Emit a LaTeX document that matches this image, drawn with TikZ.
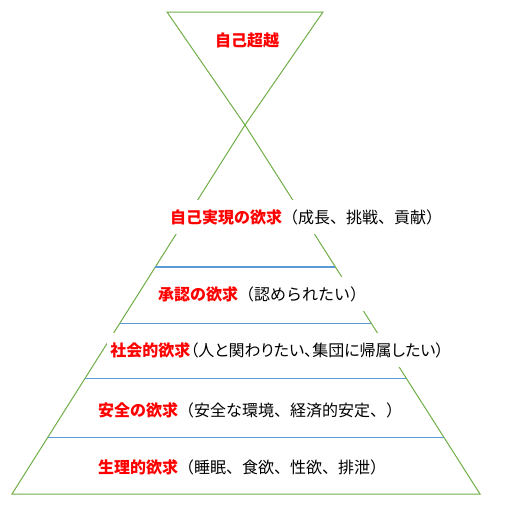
\documentclass[tikz,border=0pt]{standalone}
\usepackage{fontspec}
\setmainfont{Noto Sans CJK JP}
\newfontfamily\jpprop{Noto Sans CJK JP}[RawFeature=+palt]
\usetikzlibrary{calc}
\definecolor{wallgreen}{RGB}{112,173,71}
\definecolor{tierblue}{RGB}{91,155,213}
\newcommand{\want}[1]{\textcolor{red}{\bfseries #1}}

\begin{document}
\begin{tikzpicture}[x=1pt,y=-1pt]
    \tikzstyle{wall}=[draw=wallgreen, line width=1pt]
    \tikzstyle{tier}=[draw=tierblue, line width=1.2pt]
    \tikzstyle{need}=[fill=white, inner xsep=3pt, inner ysep=0pt,
    minimum height=34pt, font=\fontsize{16}{19}\selectfont]
    \useasboundingbox (0,0) rectangle (504,506);

    \coordinate (apex) at (245,125);
    \coordinate (tl) at (167,12);
    \coordinate (tr) at (323,12);
    \coordinate (bl) at (12,494);
    \coordinate (br) at (480,494);

    \draw[wall] (tl) -- (tr) -- (apex) -- cycle;
    \draw[wall] (apex) -- (bl) -- (br) -- cycle;

    \coordinate (t1l) at ($(apex)!0.385!(bl)$);
    \coordinate (t1r) at ($(apex)!0.385!(br)$);
    \coordinate (t2l) at ($(apex)!0.537!(bl)$);
    \coordinate (t2r) at ($(apex)!0.537!(br)$);
    \coordinate (t3l) at ($(apex)!0.686!(bl)$);
    \coordinate (t3r) at ($(apex)!0.686!(br)$);
    \coordinate (t4l) at ($(apex)!0.846!(bl)$);
    \coordinate (t4r) at ($(apex)!0.846!(br)$);
    \draw[tier] (t1l) -- (t1r);
    \draw[tier] (t2l) -- (t2r);
    \draw[tier] (t3l) -- (t3r);
    \draw[tier] (t4l) -- (t4r);

    \node[need, fill=none] at (247,40) (beyond) {\want{自己超越}};
    \node[need] at (306,217) (selfreal) {\want{自己実現の欲求}（成長、挑戦、貢献）};
    \node[need] at (262,294) (esteem) {\want{承認の欲求}（認められたい）};
    \node[need] at (277,350) (social)
    {\jpprop\want{社会的欲求}（人と関わりたい、集団に帰属したい）};
    \node[need] at (250,410) (safety) {\want{安全の欲求}（安全な環境、経済的安定、）};
    \node[need] at (242,467) (body) {\want{生理的欲求}（睡眠、食欲、性欲、排泄）};
\end{tikzpicture}
\end{document}
